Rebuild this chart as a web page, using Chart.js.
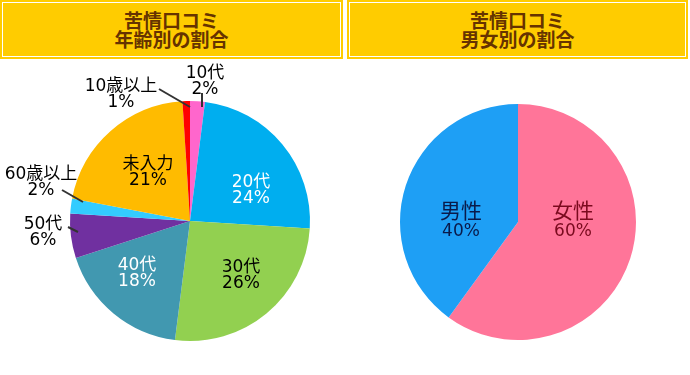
<!DOCTYPE html>
<html>
<head>
<meta charset="utf-8">
<script src="https://cdn.jsdelivr.net/npm/chart.js@4/dist/chart.umd.min.js"></script>
<style>
  html, body { margin: 0; padding: 0; background: #ffffff; width: 690px; height: 375px; overflow: hidden; }
  .hdr { position: absolute; top: 0; height: 59px; background: #FFCC00; box-sizing: border-box; }
  .hdr .inner { position: absolute; left: 2px; top: 2px; right: 2px; bottom: 2px; border: 1px solid #ffffff;
    display: flex; align-items: center; justify-content: center; text-align: center;
    font-family: "Noto Sans CJK JP", sans-serif; font-weight: bold; font-size: 19px; line-height: 18.5px; color: #663300; }
  canvas { position: absolute; }
</style>
</head>
<body>
<div class="hdr" style="left:0; width:343px;"><div class="inner" id="t1"></div></div>
<div class="hdr" style="left:347px; width:341px;"><div class="inner" id="t2"></div></div>
<canvas id="c1" width="345" height="315" style="left:0; top:60px;"></canvas>
<canvas id="c2" width="345" height="315" style="left:345px; top:60px;"></canvas>
<script>
// ---- data ----
const ageTitle = ["苦情口コミ", "年齢別の割合"];
const ageCategories = ["10代", "20代", "30代", "40代", "50代", "60歳以上", "未入力", "10歳以上"];
const ageValues = [2, 24, 26, 18, 6, 2, 21, 1];
const ageColors = ["#FF66CC", "#00AEEF", "#92D050", "#4198B0", "#7030A0", "#33CCFF", "#FFBB00", "#FF0000"];

const genderTitle = ["苦情口コミ", "男女別の割合"];
const genderCategories = ["女性", "男性"];
const genderValues = [60, 40];
const genderColors = ["#FF7599", "#1E9FF5"];

document.getElementById('t1').innerHTML = ageTitle.join('<br>');
document.getElementById('t2').innerHTML = genderTitle.join('<br>');

// label placement (offsets from pie centre, in px) — styling only
const ageLabelStyle = [
  { dx: 15, dy: -147, color: "#000", leader: [12, -128, 12, -114] },
  { dx: 61, dy: -38, color: "#fff" },
  { dx: 51, dy: 47, color: "#000" },
  { dx: -53, dy: 45, color: "#fff" },
  { dx: -147, dy: 4, color: "#000", leader: [-122, 6, -112, 11] },
  { dx: -149, dy: -46, color: "#000", leader: [-128, -31, -107, -19] },
  { dx: -42, dy: -56, color: "#000" },
  { dx: -69, dy: -134, color: "#000", leader: [-31, -132, 0, -114] }
];
const genderLabelStyle = [
  { dx: 55, dy: -9, color: "#7A0A1E", big: true },
  { dx: -57, dy: -9, color: "#0A1A4A", big: true }
];

const FAM = '"DejaVu Sans", "Noto Sans CJK JP", sans-serif';

function labelPlugin(cats, vals, styles) {
  return {
    id: 'sliceLabels',
    afterDatasetsDraw(chart) {
      const ctx = chart.ctx;
      const arc = chart.getDatasetMeta(0).data[0];
      const cx = arc.x, cy = arc.y;
      const total = vals.reduce((a, b) => a + b, 0);
      ctx.save();
      ctx.textAlign = 'center';
      ctx.textBaseline = 'middle';
      styles.forEach((s, i) => {
        if (s.leader) {
          ctx.strokeStyle = '#333';
          ctx.lineWidth = 2;
          ctx.beginPath();
          ctx.moveTo(cx + s.leader[0], cy + s.leader[1]);
          ctx.lineTo(cx + s.leader[2], cy + s.leader[3]);
          ctx.stroke();
        }
        ctx.fillStyle = s.color;
        const pct = Math.round(vals[i] / total * 100) + '%';
        ctx.font = (s.big ? '21px ' : '17px ') + FAM;
        ctx.fillText(cats[i], cx + s.dx, cy + s.dy);
        ctx.font = (s.big ? '17px ' : '17px ') + FAM;
        ctx.fillText(pct, cx + s.dx, cy + s.dy + (s.big ? 19 : 16));
      });
      ctx.restore();
    }
  };
}

function makePie(id, cats, vals, colors, padding, styles) {
  return new Chart(document.getElementById(id), {
    type: 'pie',
    data: { labels: cats, datasets: [{ data: vals, backgroundColor: colors, borderWidth: 0 }] },
    options: {
      responsive: false,
      animation: false,
      layout: { padding: padding },
      plugins: { legend: { display: false }, tooltip: { enabled: false } }
    },
    plugins: [labelPlugin(cats, vals, styles)]
  });
}

makePie('c1', ageCategories, ageValues, ageColors, { left: 70, right: 35, top: 41, bottom: 34 }, ageLabelStyle);
makePie('c2', genderCategories, genderValues, genderColors, { left: 55, right: 54, top: 44, bottom: 35 }, genderLabelStyle);
</script>
</body>
</html>
